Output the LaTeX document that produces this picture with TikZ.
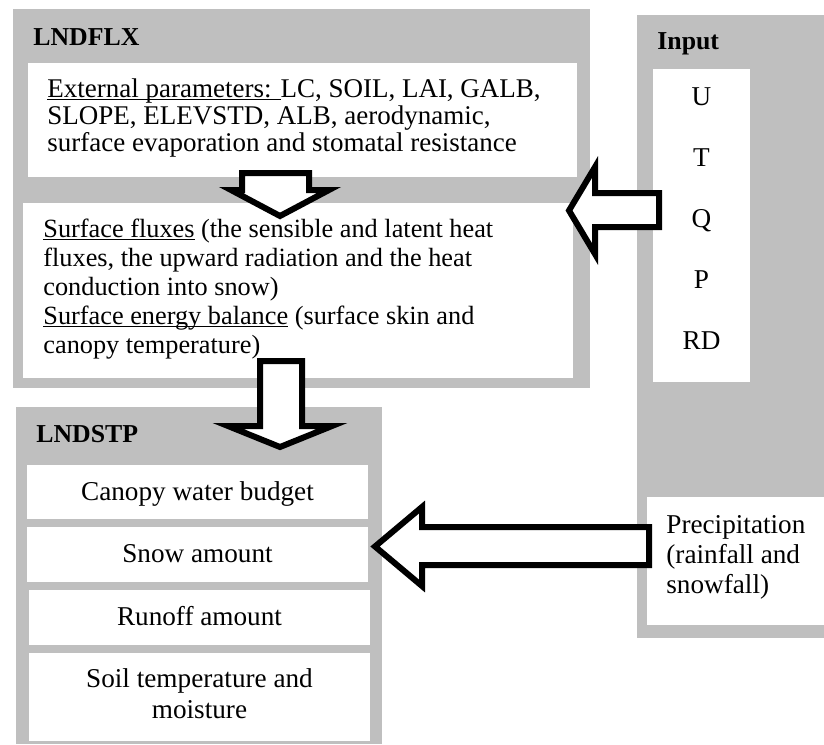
\documentclass[tikz,border=0pt]{standalone}
\usepackage{fontspec}
\setmainfont{Liberation Serif}
\newsavebox\ulbox
\newcommand\myul[1]{\sbox\ulbox{#1}\rlap{\rule[-1.7pt]{\wd\ulbox}{0.9pt}}\usebox\ulbox}
\usetikzlibrary{fit}
\definecolor{boxgray}{RGB}{191,191,191}
\tikzset{
  graybox/.style={fill=boxgray, draw=none, inner sep=0pt},
  whitebox/.style={fill=white, draw=none, inner sep=0pt},
  txt/.style={inner sep=0pt, font=\fontsize{13.6}{16}\selectfont},
  exttxt/.style={inner sep=0pt, font=\fontsize{13.5}{16}\selectfont},
  fluxtxt/.style={inner sep=0pt, font=\fontsize{13.15}{16}\selectfont},
  headtxt/.style={inner sep=0pt, font=\fontsize{12.9}{15}\selectfont\bfseries},
  blockarrow/.style={draw=black, fill=white, line width=3pt, line join=miter},
}
\begin{document}
\begin{tikzpicture}[x=0.5pt,y=-0.5pt]
\useasboundingbox (0,0) rectangle (824,744);
% ---- LNDFLX
\node[graybox, fit={(13,9) (590,388)}] (lndflx) {};
\node[headtxt, anchor=base west] (lndflxh) at (33,45) {LNDFLX};
\node[whitebox, fit={(28,63) (577,177)}] (ext) {};
\node[exttxt, anchor=base west] (ext1) at (47,97) {\myul{External parameters: }LC, SOIL, LAI, GALB,};
\node[exttxt, anchor=base west] (ext2) at (47,124) {SLOPE, ELEVSTD, ALB, aerodynamic,};
\node[exttxt, anchor=base west] (ext3) at (47,151) {surface evaporation and stomatal resistance};
\node[whitebox, fit={(23,203) (573,378)}] (flux) {};
\node[fluxtxt, anchor=base west] (flux1) at (43,237) {\myul{Surface fluxes} (the sensible and latent heat};
\node[fluxtxt, anchor=base west] (flux2) at (43,266) {fluxes, the upward radiation and the heat};
\node[fluxtxt, anchor=base west] (flux3) at (43,295) {conduction into snow)};
\node[fluxtxt, anchor=base west] (flux4) at (43,324) {\myul{Surface energy balance} (surface skin and};
\node[fluxtxt, anchor=base west] (flux5) at (43,353) {canopy temperature)};
% ---- Input
\node[graybox, fit={(637,15) (824,638)}] (input) {};
\node[headtxt, anchor=base west] (inputh) at (657,49) {Input};
\node[whitebox, fit={(653,69) (750,382)}] (vars) {};
\node[txt, anchor=base] (vu) at (701.5,105) {U};
\node[txt, anchor=base] (vt) at (701.5,166) {T};
\node[txt, anchor=base] (vq) at (701.5,227) {Q};
\node[txt, anchor=base] (vp) at (701.5,288) {P};
\node[txt, anchor=base] (vrd) at (701.5,349) {RD};
\node[whitebox, fit={(647,497) (824,625)}] (precip) {};
\node[txt, anchor=base west] (pr1) at (666,533) {Precipitation};
\node[txt, anchor=base west] (pr2) at (666,563) {(rainfall and};
\node[txt, anchor=base west] (pr3) at (666,593) {snowfall)};
% ---- LNDSTP
\node[graybox, fit={(16,407) (382,744)}] (lndstp) {};
\node[headtxt, anchor=base west] (lndstph) at (36,442) {LNDSTP};
\node[whitebox, fit={(27,465) (368,519)}] (canopy) {};
\node[txt, anchor=base] (canopyt) at (197.5,500) {Canopy water budget};
\node[whitebox, fit={(27,527) (368,582)}] (snow) {};
\node[txt, anchor=base] (snowt) at (197.5,562) {Snow amount};
\node[whitebox, fit={(29,590) (370,645)}] (runoff) {};
\node[txt, anchor=base] (runofft) at (199.5,625) {Runoff amount};
\node[whitebox, fit={(29,653) (370,741)}] (soil) {};
\node[txt, anchor=base] (soil1) at (199.5,687) {Soil temperature and};
\node[txt, anchor=base] (soil2) at (199.5,718) {moisture};
% ---- block arrows
\draw[blockarrow] (242,173) -- (309,173) -- (309,190) -- (329,190) -- (280,216) -- (231,190) -- (242,190) -- cycle;
\draw[blockarrow] (260,361) -- (302,361) -- (302,426) -- (332,426) -- (280,447) -- (228,426) -- (260,426) -- cycle;
\draw[blockarrow] (659,193) -- (595,193) -- (595,167) -- (569,210.5) -- (595,254) -- (595,227) -- (659,227) -- cycle;
\draw[blockarrow] (649,527) -- (422,527) -- (422,507) -- (375,546.5) -- (422,586) -- (422,565) -- (649,565) -- cycle;
\end{tikzpicture}
\end{document}
